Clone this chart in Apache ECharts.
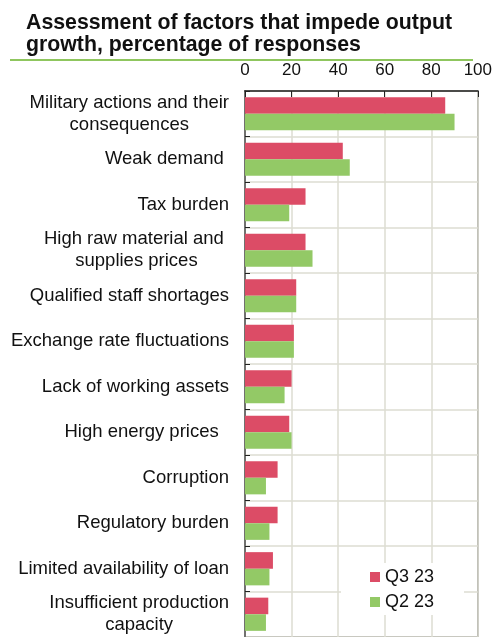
<!DOCTYPE html>
<html>
<head>
<meta charset="utf-8">
<script src="https://cdn.jsdelivr.net/npm/echarts@6/dist/echarts.min.js"></script>
<style>
  html, body { margin: 0; padding: 0; background: #fff; }
  #main { width: 495px; height: 637px; }
</style>
</head>
<body>
<div id="main"></div>
<script>
// factors, top to bottom
var categories = [
  'Military actions and their\nconsequences',
  'Weak demand ',
  'Tax burden',
  'High raw material and \nsupplies prices',
  'Qualified staff shortages',
  'Exchange rate fluctuations',
  'Lack of working assets',
  'High energy prices  ',
  'Corruption',
  'Regulatory burden',
  'Limited availability of loan',
  'Insufficient production\ncapacity'
];
var q3_23 = [86, 42, 26, 26, 22, 21, 20, 19, 14, 14, 12, 10];
var q2_23 = [90, 45, 19, 29, 22, 21, 17, 20, 9, 10.5, 10.5, 9];
var xTicks = [0, 100, 20];

var font = 'Liberation Sans, Arial, sans-serif';
var gridCol = '#dcdcd2';

var myChart = echarts.init(document.getElementById('main'));

var option = {
  backgroundColor: '#fff',
  animation: false,
  title: {
    text: 'Assessment of factors that impede output\ngrowth, percentage of responses',
    left: 26,
    top: 12,
    padding: 0,
    textStyle: {
      fontFamily: font,
      fontWeight: 'bold',
      fontSize: 21.3,
      lineHeight: 22,
      color: '#111'
    }
  },
  graphic: [{
    type: 'line',
    shape: { x1: 10, y1: 60, x2: 473, y2: 60 },
    style: { stroke: '#8fc65e', lineWidth: 2 }
  }],
  legend: {
    orient: 'vertical',
    left: 341,
    top: 563,
    backgroundColor: '#fff',
    padding: [5, 30, 4, 29],
    itemWidth: 10,
    itemHeight: 10,
    itemGap: 7,
    icon: 'rect',
    textStyle: { fontFamily: font, fontSize: 18, lineHeight: 18, color: '#111' },
    data: ['Q3 23', 'Q2 23']
  },
  grid: {
    left: 245,
    top: 91,
    right: 16,
    height: 550,
    show: true,
    borderColor: '#666',
    borderWidth: 1.5
  },
  xAxis: {
    type: 'value',
    position: 'top',
    min: xTicks[0],
    max: xTicks[1],
    interval: xTicks[2],
    axisLine: { show: true, lineStyle: { color: '#222', width: 1.5 } },
    axisTick: { show: true, inside: true, length: 6, lineStyle: { color: '#222' } },
    axisLabel: { fontFamily: font, fontSize: 17, color: '#111', margin: 12 },
    splitLine: { show: true, lineStyle: { color: gridCol, width: 1.5 } }
  },
  yAxis: {
    type: 'category',
    inverse: true,
    data: categories,
    axisLine: { show: true, lineStyle: { color: '#555', width: 1.5 } },
    axisTick: { show: true, inside: true, length: 5, lineStyle: { color: '#222' } },
    splitLine: { show: true, lineStyle: { color: gridCol, width: 1.5 } },
    axisLabel: {
      margin: 16,
      fontFamily: font,
      fontSize: 18.5,
      lineHeight: 22,
      color: '#111',
      formatter: function (v) {
        if (v.indexOf('\n') < 0) return v;
        return v.split('\n').map(function (l) { return '{c|' + l + '}'; }).join('\n');
      },
      rich: {
        c: { align: 'center', fontFamily: font, fontSize: 18.5, lineHeight: 22, color: '#111' }
      }
    }
  },
  series: [{
    name: 'Q3 23',
    type: 'bar',
    data: q3_23,
    barGap: '0%',
    barCategoryGap: '27%',
    itemStyle: { color: '#dc4c66' }
  }, {
    name: 'Q2 23',
    type: 'bar',
    data: q2_23,
    barGap: '0%',
    barCategoryGap: '27%',
    itemStyle: { color: '#93c966' }
  }]
};
myChart.setOption(option);
</script>
</body>
</html>
